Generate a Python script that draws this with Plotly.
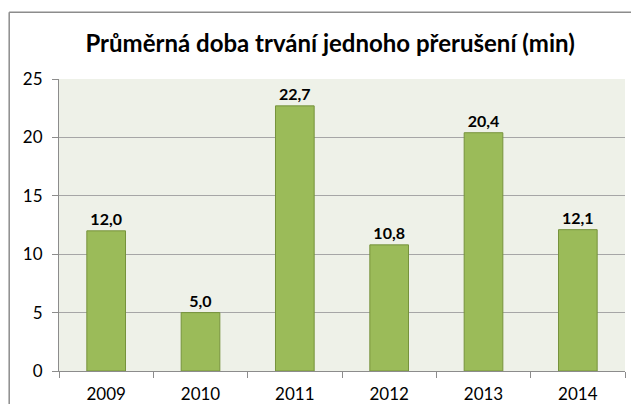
import plotly.graph_objects as go

# Data
years = ["2009", "2010", "2011", "2012", "2013", "2014"]
durations = [12.0, 5.0, 22.7, 10.8, 20.4, 12.1]
labels = ["12,0", "5,0", "22,7", "10,8", "20,4", "12,1"]

FONT = "Lato, 'Open Sans', sans-serif"

fig = go.Figure()

fig.add_trace(go.Bar(
    x=years,
    y=durations,
    text=labels,
    textposition="outside",
    textfont=dict(family=FONT, size=16, color="#000000", weight="bold"),
    cliponaxis=False,
    marker=dict(color="#9bbb59", line=dict(color="#76923c", width=1)),
    width=0.41,
))

# outer chart frame: only the top and left edges are inside the picture
frame = dict(color="#8c8c8c", width=1.5)
fig.add_shape(type="line", xref="paper", yref="paper",
              x0=-0.088, x1=1.2, y0=1.229, y1=1.229, line=frame, layer="below")
fig.add_shape(type="line", xref="paper", yref="paper",
              x0=-0.088, x1=-0.088, y0=-0.3, y1=1.229, line=frame, layer="below")

# page body has an 8px default margin, so the figure is sized to fit
fig.update_layout(
    width=623,
    height=396,
    margin=dict(l=51, r=6, t=71, b=33),
    paper_bgcolor="white",
    plot_bgcolor="#eef1e8",
    showlegend=False,
    title=dict(
        text="<b>Průměrná doba trvání jednoho přerušení (min)</b>",
        x=0.479, xanchor="center", xref="paper",
        y=1 - 36 / 396, yanchor="middle",
        font=dict(family=FONT, size=24, color="#000000"),
    ),
    xaxis=dict(
        showgrid=False,
        showline=True,
        linecolor="#8c8c8c",
        ticks="outside",
        tickson="boundaries",
        ticklen=6,
        tickcolor="#8c8c8c",
        tickfont=dict(family=FONT, size=17, color="#000000"),
        ticklabelstandoff=8,
        automargin=False,
    ),
    yaxis=dict(
        range=[0, 25],
        dtick=5,
        showgrid=True,
        gridcolor="#a6a6a6",
        gridwidth=1,
        showline=True,
        linecolor="#8c8c8c",
        ticks="outside",
        ticklen=6,
        tickcolor="#8c8c8c",
        zeroline=False,
        tickfont=dict(family=FONT, size=17, color="#000000"),
        ticklabelstandoff=6,
        automargin=False,
    ),
)

fig.write_html("out.html")
